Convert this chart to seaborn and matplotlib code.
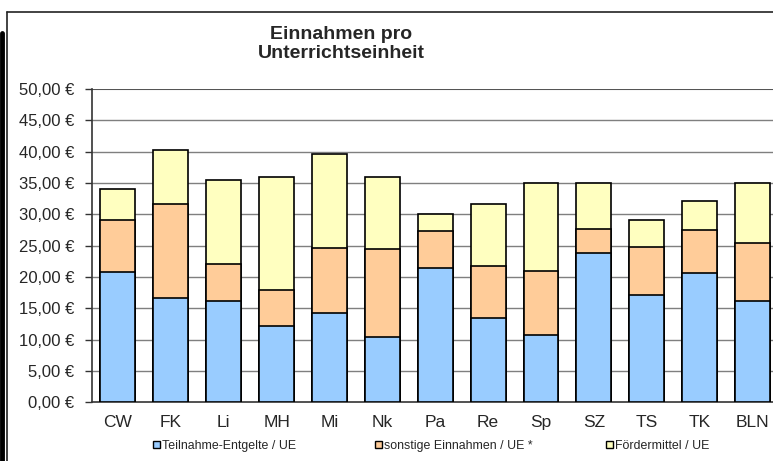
import matplotlib
matplotlib.use("Agg")
import matplotlib.pyplot as plt
import seaborn as sns
import pandas as pd
import numpy as np
from matplotlib.patches import Patch
from matplotlib.lines import Line2D

categories = ["CW", "FK", "Li", "MH", "Mi", "Nk", "Pa", "Re", "Sp", "SZ", "TS", "TK", "BLN"]
teilnahme = [20.8, 16.6, 16.2, 12.1, 14.3, 10.4, 21.5, 13.4, 10.8, 23.9, 17.2, 20.7, 16.2]
sonstige = [8.3, 15.1, 5.9, 5.9, 10.4, 14.0, 5.8, 8.4, 10.1, 3.8, 7.6, 6.8, 9.2]
foerder = [4.9, 8.6, 13.4, 17.9, 15.0, 11.5, 2.7, 9.9, 14.1, 7.3, 4.3, 4.6, 9.6]
series_labels = ["Teilnahme-Entgelte / UE", "sonstige Einnahmen / UE *", "Fördermittel / UE"]
yticks = [0, 5, 10, 15, 20, 25, 30, 35, 40, 45, 50]

colors = ["#99CCFF", "#FFCC99", "#FFFFC0"]

sns.set_theme(style="white")
plt.rcParams["font.family"] = ["Liberation Sans", "DejaVu Sans"]

df = pd.DataFrame({"cat": categories, "t": teilnahme, "s": sonstige, "f": foerder})
df["lvl1"] = df["t"]
df["lvl2"] = df["t"] + df["s"]
df["lvl3"] = df["t"] + df["s"] + df["f"]

fig = plt.figure(figsize=(7.73, 4.61), dpi=100)
W, H = 773, 461
ax = fig.add_axes([91.5 / W, 1 - 402.3 / H, (779 - 91.5) / W, (402.3 - 89) / H])

for col, c in [("lvl3", colors[2]), ("lvl2", colors[1]), ("lvl1", colors[0])]:
    sns.barplot(data=df, x="cat", y=col, order=categories, color=c, width=0.66,
                edgecolor="black", linewidth=1.2, saturation=1, ax=ax, zorder=3)

ax.set_ylim(0, 50)
ax.set_xlim(-0.5, 12.5)
ax.set_yticks(yticks)
ax.set_yticklabels([f"{v:.2f} €".replace(".", ",") for v in yticks], fontsize=12)
ax.set_xticks(range(len(categories)))
ax.set_xticklabels(categories, fontsize=12.5)
ax.set_xlabel("")
ax.set_ylabel("")
ax.tick_params(axis="x", which="major", length=0, pad=9)
ax.set_xticks(np.arange(-0.5, 12.6, 1), minor=True)
ax.tick_params(axis="x", which="minor", length=5, direction="out", color="#333333", width=1)
ax.tick_params(axis="y", length=5, direction="out", color="#333333", width=1, pad=7.5, left=True)
for y in yticks[1:]:
    ax.axhline(y, color="#7f7f7f" if y < 50 else "#555555", lw=1 if y < 50 else 1.5, zorder=1)
for s in ["top", "right"]:
    ax.spines[s].set_visible(False)
ax.spines["left"].set_color("#333333")
ax.spines["bottom"].set_color("#333333")
ax.spines["left"].set_linewidth(1.2)
ax.spines["bottom"].set_linewidth(1.2)
ax.grid(False)

fig.text(341 / W, 1 - 44 / H, "Einnahmen pro\nUnterrichtseinheit", ha="center", va="center",
         fontsize=14, fontweight="bold", linespacing=1.1)

legend_x = [153, 375, 606]
for lab, c, x in zip(series_labels, colors, legend_x):
    fig.legend(handles=[Patch(facecolor=c, edgecolor="black", linewidth=1.0)], labels=[lab],
               loc="center left", bbox_to_anchor=(x / W, 1 - 446 / H), frameon=False,
               fontsize=8.9, handlelength=0.55, handleheight=0.55, handletextpad=0.15,
               borderpad=0, borderaxespad=0)

# outer frame lines
fig.add_artist(Line2D([7 / W, 1], [1 - 12 / H, 1 - 12 / H], color="#222222", lw=1.2))
fig.add_artist(Line2D([7 / W, 7 / W], [0, 1 - 12 / H], color="#222222", lw=1.2))
fig.add_artist(Line2D([2 / W, 2 / W], [0, 1 - 33 / H], color="black", lw=3.5))

fig.savefig("out.png", dpi=100)
